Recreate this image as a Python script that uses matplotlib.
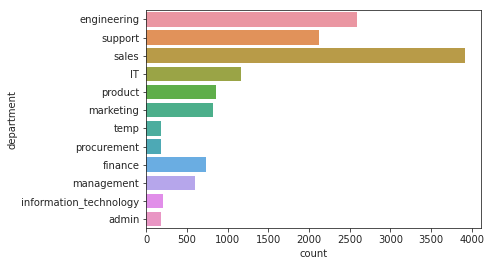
import matplotlib
matplotlib.use("Agg")
import matplotlib.pyplot as plt

departments = ["engineering", "support", "sales", "IT", "product", "marketing",
               "temp", "procurement", "finance", "management",
               "information_technology", "admin"]
counts = [2592, 2122, 3923, 1161, 860, 819, 181, 181, 728, 595, 209, 176]
colors = ["#EA96A2", "#E1925A", "#B89B48", "#9AA446", "#5FAE4A", "#4CAF8B",
          "#4CAD9E", "#4DA9B5", "#6AADE2", "#B6A6EB", "#E18EE9", "#E996C4"]

plt.rcParams["font.family"] = ["DejaVu Sans"]
plt.rcParams["font.size"] = 10

fig = plt.figure(figsize=(491 / 72, 266 / 72), dpi=72)
ax = fig.add_axes([146.3 / 491, 1 - 228.3 / 266, (481.3 - 146.3) / 491, (228.3 - 10.3) / 266])

y = list(range(len(departments)))
ax.barh(y, counts, height=0.8, color=colors)
ax.set_yticks(y)
ax.set_yticklabels(departments)
ax.set_ylim(len(departments) - 0.5, -0.5)
ax.set_xlim(0, max(counts) * 1.05)
ax.set_xticks(range(0, 4001, 500))

for s in ax.spines.values():
    s.set_color("#262626")
ax.tick_params(colors="#262626", labelcolor="#262626")
ax.set_xlabel("count", color="#262626")
ax.set_ylabel("department", color="#262626")

fig.savefig("out.png", dpi=72)
